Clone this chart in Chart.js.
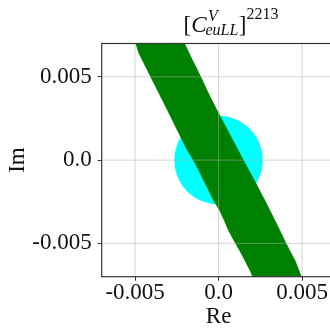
<!DOCTYPE html>
<html>
<head>
<meta charset="utf-8">
<script src="https://cdn.jsdelivr.net/npm/chart.js@4"></script>
<style>
  html, body { margin: 0; padding: 0; background: #fff; overflow: hidden; }
  #wrap { width: 340px; height: 329px; }
</style>
</head>
<body>
<div id="wrap"><canvas id="chart"></canvas></div>
<script>
// axis ticks (same on both axes)
const tickValues = [-0.005, 0, 0.005];
const tickLabels = ['-0.005', '0.0', '0.005'];
const axisMin = -0.007;
const axisMax = 0.007;

// cyan disc
const circleX = [0];
const circleY = [0];
const circleR = 0.00265;

// green band, left edge read top to bottom
const bandLeftX = [-0.00498, -0.00478, -0.00448, -0.00408, -0.00358, -0.00307, -0.00268, -0.00218, -0.00187, -0.00151,
  -0.00119, -0.00090, -0.00059, -0.00030, 0.00006, 0.00034, 0.00060, 0.00092, 0.00126, 0.00158,
  0.00189, 0.00209];
const bandLeftY = [0.0071, 0.00645, 0.00584, 0.00504, 0.00404, 0.00303, 0.00223, 0.00122, 0.00060, 0.00000,
  -0.00060, -0.00120, -0.00181, -0.00241, -0.00301, -0.00361, -0.00422, -0.00482, -0.00542, -0.00602,
  -0.00663, -0.0071];

// green band, right edge read top to bottom
const bandRightX = [-0.00209, -0.00159, -0.00109, -0.00063, -0.00021, 0.00010, 0.00052, 0.00100, 0.00148, 0.00180,
  0.00213, 0.00260, 0.00276, 0.00306, 0.00336, 0.00366, 0.00395, 0.00425, 0.00457, 0.00492,
  0.00498];
const bandRightY = [0.0071, 0.00604, 0.00504, 0.00404, 0.00321, 0.00261, 0.00181, 0.00090, 0.00000, -0.00060,
  -0.00120, -0.00211, -0.00241, -0.00301, -0.00361, -0.00422, -0.00482, -0.00542, -0.00602, -0.00693,
  -0.0071];

const serif = "'Liberation Serif', 'DejaVu Serif', serif";

// polygon: down the left edge, back up the right edge
var bandPoints = [];
for (let i = 0; i < bandLeftX.length; i++) {
    bandPoints.push({ x: bandLeftX[i], y: bandLeftY[i] });
}
for (let i = bandRightX.length - 1; i >= 0; i--) {
    bandPoints.push({ x: bandRightX[i], y: bandRightY[i] });
}
const circlePoints = circleX.map((x, i) => ({ x: x, y: circleY[i] }));

function radiusPx(ctx) {
    const sx = ctx.chart.scales.x;
    if (!sx) return 0;
    return Math.abs(sx.getPixelForValue(circleR) - sx.getPixelForValue(0));
}

// grid on top of the data, then the frame
const gridOnTop = {
    id: 'gridOnTop',
    afterDatasetsDraw(chart) {
        const { ctx, chartArea: a, scales } = chart;
        ctx.save();
        ctx.strokeStyle = 'rgba(176,176,176,0.5)';
        ctx.lineWidth = 1;
        tickValues.forEach(v => {
            const px = scales.x.getPixelForValue(v);
            const py = scales.y.getPixelForValue(v);
            ctx.beginPath();
            ctx.moveTo(px, a.top);
            ctx.lineTo(px, a.bottom);
            ctx.moveTo(a.left, py);
            ctx.lineTo(a.right, py);
            ctx.stroke();
        });
        ctx.strokeStyle = '#333';
        ctx.lineWidth = 1.2;
        ctx.strokeRect(a.left, a.top, a.right - a.left, a.bottom - a.top);
        ctx.restore();
    }
};

// title [C^V_{euLL}]^{2213}
const mathTitle = {
    id: 'mathTitle',
    afterDraw(chart) {
        const ctx = chart.ctx;
        const big = 23, small = 16;
        const base = 31.5;
        ctx.save();
        ctx.fillStyle = '#111';
        ctx.textBaseline = 'alphabetic';
        ctx.textAlign = 'left';
        const fontN = s => s + 'px ' + serif;
        const fontI = s => 'italic ' + s + 'px ' + serif;
        ctx.font = fontN(big);
        const wOpen = ctx.measureText('[').width;
        const wClose = ctx.measureText(']').width;
        ctx.font = fontI(big);
        const wC = ctx.measureText('C').width;
        ctx.font = fontI(small);
        const wV = ctx.measureText('V').width;
        const wSub = ctx.measureText('euLL').width;
        ctx.font = fontN(small);
        const wSup = ctx.measureText('2213').width;

        const subStart = wOpen + wC - 1;
        const vStart = wOpen + wC + 1.5;
        const closeStart = Math.max(subStart + wSub, vStart + wV) + 0.5;
        const total = closeStart + wClose + wSup;
        const x0 = 231 - total / 2;

        ctx.font = fontN(big);
        ctx.fillText('[', x0, base);
        ctx.fillText(']', x0 + closeStart, base);
        ctx.font = fontI(big);
        ctx.fillText('C', x0 + wOpen, base);
        ctx.font = fontI(small);
        ctx.fillText('V', x0 + vStart, 20.5);
        ctx.fillText('euLL', x0 + subStart, 35);
        ctx.font = fontN(small);
        ctx.fillText('2213', x0 + closeStart + wClose, 18.5);
        ctx.restore();
    }
};

function axisOptions(titleText, isX) {
    return {
        type: 'linear',
        min: axisMin,
        max: axisMax,
        afterBuildTicks: scale => { scale.ticks = tickValues.map(v => ({ value: v })); },
        afterFit: scale => {
            if (isX) scale.height = 52.3;
            else scale.width = 101.7;
        },
        grid: {
            drawOnChartArea: false,
            drawTicks: true,
            tickLength: 4,
            tickColor: '#333',
            tickWidth: 1
        },
        border: { display: false },
        ticks: {
            autoSkip: false,
            maxRotation: 0,
            color: '#111',
            padding: isX ? 1 : 6,
            font: { family: serif, size: 23, lineHeight: 1 },
            callback: value => {
                const i = tickValues.indexOf(value);
                return i >= 0 ? tickLabels[i] : '';
            }
        },
        title: {
            display: true,
            text: titleText,
            color: '#111',
            font: { family: serif, size: 23, lineHeight: 1 },
            padding: isX ? { top: 0, bottom: 0.5 } : { top: 6.5, bottom: 0 }
        }
    };
}

new Chart(document.getElementById('chart'), {
    type: 'scatter',
    data: {
        datasets: [
            {
                label: 'band',
                data: bandPoints,
                showLine: true,
                fill: 'shape',
                backgroundColor: 'rgb(0,128,0)',
                borderColor: 'rgb(0,128,0)',
                borderWidth: 0.8,
                pointRadius: 0,
                tension: 0,
                clip: 0,
                order: 1
            },
            {
                label: 'disc',
                data: circlePoints,
                pointRadius: radiusPx,
                pointHoverRadius: radiusPx,
                backgroundColor: '#00ffff',
                borderColor: '#00ffff',
                borderWidth: 0,
                pointBorderWidth: 0,
                clip: 0,
                order: 2
            }
        ]
    },
    options: {
        responsive: true,
        maintainAspectRatio: false,
        animation: false,
        events: [],
        layout: { padding: { left: 0, top: 43.5, right: 4.5, bottom: 0 } },
        plugins: {
            legend: { display: false },
            tooltip: { enabled: false },
            title: { display: false }
        },
        scales: {
            x: axisOptions('Re', true),
            y: axisOptions('Im', false)
        }
    },
    plugins: [gridOnTop, mathTitle]
});
</script>
</body>
</html>
